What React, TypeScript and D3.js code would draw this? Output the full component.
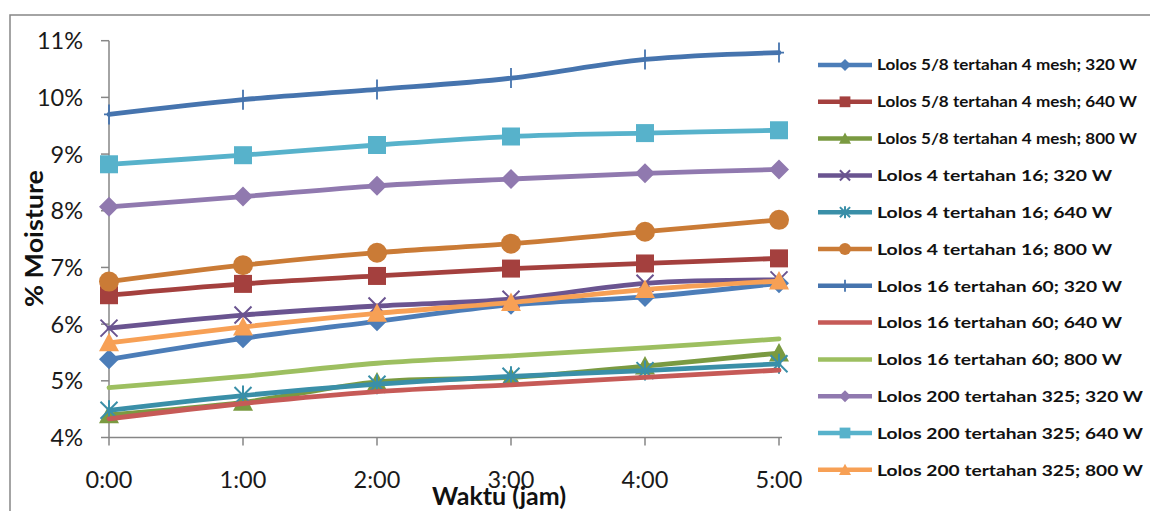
import React from "react";
import * as d3 from "d3";

// Drying time points (hours)
const timeLabels = ["0:00", "1:00", "2:00", "3:00", "4:00", "5:00"];

// Y-axis ticks in percent moisture
const yTicks = [4, 5, 6, 7, 8, 9, 10, 11];

// Moisture content (%) per fraction and microwave power
const lolos58_320 = [5.38, 5.75, 6.05, 6.34, 6.48, 6.72];
const lolos58_640 = [6.51, 6.71, 6.85, 6.98, 7.07, 7.16];
const lolos58_800 = [4.4, 4.62, 4.98, 5.06, 5.26, 5.49];
const lolos4_320 = [5.93, 6.16, 6.32, 6.44, 6.72, 6.78];
const lolos4_640 = [4.48, 4.74, 4.94, 5.08, 5.18, 5.3];
const lolos4_800 = [6.75, 7.04, 7.26, 7.42, 7.63, 7.84];
const lolos16_320 = [9.7, 9.96, 10.14, 10.34, 10.67, 10.79];
const lolos16_640 = [4.33, 4.6, 4.81, 4.93, 5.06, 5.19];
const lolos16_800 = [4.88, 5.08, 5.31, 5.44, 5.58, 5.74];
const lolos200_320 = [8.07, 8.25, 8.44, 8.56, 8.66, 8.73];
const lolos200_640 = [8.82, 8.98, 9.16, 9.31, 9.37, 9.42];
const lolos200_800 = [5.67, 5.95, 6.19, 6.38, 6.61, 6.76];

const seriesNames = [
  "Lolos 5/8 tertahan 4 mesh; 320 W",
  "Lolos 5/8 tertahan 4 mesh; 640 W",
  "Lolos 5/8 tertahan 4 mesh; 800 W",
  "Lolos 4 tertahan 16; 320 W",
  "Lolos 4 tertahan 16; 640 W",
  "Lolos 4 tertahan 16; 800 W",
  "Lolos 16 tertahan 60; 320 W",
  "Lolos 16 tertahan 60; 640 W",
  "Lolos 16 tertahan 60; 800 W",
  "Lolos 200 tertahan 325; 320 W",
  "Lolos 200 tertahan 325; 640 W",
  "Lolos 200 tertahan 325; 800 W",
];

const seriesValues = [
  lolos58_320, lolos58_640, lolos58_800,
  lolos4_320, lolos4_640, lolos4_800,
  lolos16_320, lolos16_640, lolos16_800,
  lolos200_320, lolos200_640, lolos200_800,
];

type Marker = "diamond" | "square" | "triangle" | "x" | "star" | "circle" | "plus" | "none";

const seriesStyle: { color: string; marker: Marker }[] = [
  { color: "#4C7DB8", marker: "diamond" },
  { color: "#A4403E", marker: "square" },
  { color: "#7A9A41", marker: "triangle" },
  { color: "#6A5490", marker: "x" },
  { color: "#3A8FA8", marker: "star" },
  { color: "#CA7B36", marker: "circle" },
  { color: "#4674AE", marker: "plus" },
  { color: "#C65A57", marker: "none" },
  { color: "#9DBF60", marker: "none" },
  { color: "#9079AF", marker: "diamond" },
  { color: "#57B2CB", marker: "square" },
  { color: "#F7A055", marker: "triangle" },
];

const W = 1150;
const H = 511;
const plot = { left: 109, right: 779, top: 40.7, bottom: 437.5 };
const FONT = "Lato, 'Open Sans', sans-serif";
const AXIS = "#868686";

const x = d3.scalePoint<string>().domain(timeLabels).range([plot.left, plot.right]);
const y = d3.scaleLinear().domain([4, 11]).range([plot.bottom, plot.top]);

const line = d3
  .line<number>()
  .x((_, i) => x(timeLabels[i]) as number)
  .y((d) => y(d))
  .curve(d3.curveCardinal.tension(0));

function markerEl(kind: Marker, cx: number, cy: number, s: number, color: string, key: string) {
  const h = s / 2;
  switch (kind) {
    case "diamond":
      return (
        <path key={key} d={`M${cx},${cy - h}L${cx + h},${cy}L${cx},${cy + h}L${cx - h},${cy}Z`} fill={color} />
      );
    case "square":
      return <rect key={key} x={cx - h * 0.9} y={cy - h * 0.9} width={s * 0.9} height={s * 0.9} fill={color} />;
    case "triangle":
      return (
        <path key={key} d={`M${cx},${cy - h}L${cx + h},${cy + h * 0.85}L${cx - h},${cy + h * 0.85}Z`} fill={color} />
      );
    case "circle":
      return <circle key={key} cx={cx} cy={cy} r={h} fill={color} />;
    case "x": {
      const a = h * 0.85;
      return (
        <path key={key} d={`M${cx - a},${cy - a}L${cx + a},${cy + a}M${cx - a},${cy + a}L${cx + a},${cy - a}`}
          stroke={color} strokeWidth={2} fill="none" />
      );
    }
    case "star": {
      const a = h * 0.85;
      return (
        <path key={key}
          d={`M${cx - a},${cy - a}L${cx + a},${cy + a}M${cx - a},${cy + a}L${cx + a},${cy - a}M${cx},${cy - h}L${cx},${cy + h}`}
          stroke={color} strokeWidth={2} fill="none" />
      );
    }
    case "plus":
      return (
        <path key={key} d={`M${cx},${cy - h}L${cx},${cy + h}M${cx - h * 0.5},${cy}L${cx + h * 0.5},${cy}`}
          stroke={color} strokeWidth={1.8} fill="none" />
      );
    default:
      return null;
  }
}

const legendTop = 65;
const legendStep = 36.8;
const legendWidths = [260, 260, 260, 235, 235, 235, 245, 245, 245, 266, 266, 266];

export default function App() {
  return (
    <svg width={W} height={H} style={{ position: "absolute", left: 0, top: 0, background: "#fff" }}>
      <rect x={0} y={0} width={W} height={H} fill="#fff" />

      {/* chart frame */}
      <path d={`M10,${H}L10,15L${W},15`} fill="none" stroke={AXIS} strokeWidth={1.5} />

      {/* y axis */}
      <line x1={plot.left} x2={plot.left} y1={plot.top} y2={plot.bottom} stroke={AXIS} strokeWidth={1.5} />
      {yTicks.map((t) => (
        <g key={t}>
          <line x1={plot.left - 8} x2={plot.left} y1={y(t)} y2={y(t)} stroke={AXIS} strokeWidth={1.5} />
          <text x={83} y={y(t)} dy="0.36em" textAnchor="end" fontFamily={FONT} fontSize={23.5} fill="#1a1a1a">
            {`${t}%`}
          </text>
        </g>
      ))}

      {/* x axis */}
      <line x1={plot.left} x2={plot.right + 3} y1={plot.bottom} y2={plot.bottom} stroke={AXIS} strokeWidth={1.5} />
      {timeLabels.map((t) => (
        <g key={t}>
          <line x1={x(t)} x2={x(t)} y1={plot.bottom} y2={plot.bottom + 8} stroke={AXIS} strokeWidth={1.5} />
          <text x={x(t)} y={488} textAnchor="middle" fontFamily={FONT} fontSize={23.5} fill="#1a1a1a">
            {t}
          </text>
        </g>
      ))}

      {/* axis titles */}
      <text x={499} y={505} textAnchor="middle" fontFamily={FONT} fontWeight={700} fontSize={24}
        textLength={134} lengthAdjust="spacingAndGlyphs" fill="#111">
        Waktu (jam)
      </text>
      <text transform="translate(43,238.5) rotate(-90)" textAnchor="middle" fontFamily={FONT} fontWeight={700}
        fontSize={25.5} textLength={137} lengthAdjust="spacingAndGlyphs" fill="#111">
        % Moisture
      </text>

      {/* series lines */}
      {seriesValues.map((vals, si) => (
        <g key={si}>
          <path d={line(vals) ?? ""} fill="none" stroke={seriesStyle[si].color} strokeWidth={4.8}
            strokeLinejoin="round" strokeLinecap="round" />
          {vals.map((v, i) =>
            markerEl(seriesStyle[si].marker, x(timeLabels[i]) as number, y(v), 20, seriesStyle[si].color, `${si}-${i}`)
          )}
        </g>
      ))}

      {/* legend */}
      {seriesNames.map((name, i) => {
        const ly = legendTop + i * legendStep;
        const small = i < 3;
        return (
          <g key={name}>
            <line x1={818} x2={872} y1={ly} y2={ly} stroke={seriesStyle[i].color} strokeWidth={4.5} />
            {markerEl(seriesStyle[i].marker, 845, ly, 12, seriesStyle[i].color, `lg-${i}`)}
            <text x={877} y={ly} dy="0.36em" fontFamily={FONT} fontWeight={700} fontSize={small ? 14.5 : 16}
              textLength={legendWidths[i]} lengthAdjust="spacingAndGlyphs" fill="#111">
              {name}
            </text>
          </g>
        );
      })}
    </svg>
  );
}
